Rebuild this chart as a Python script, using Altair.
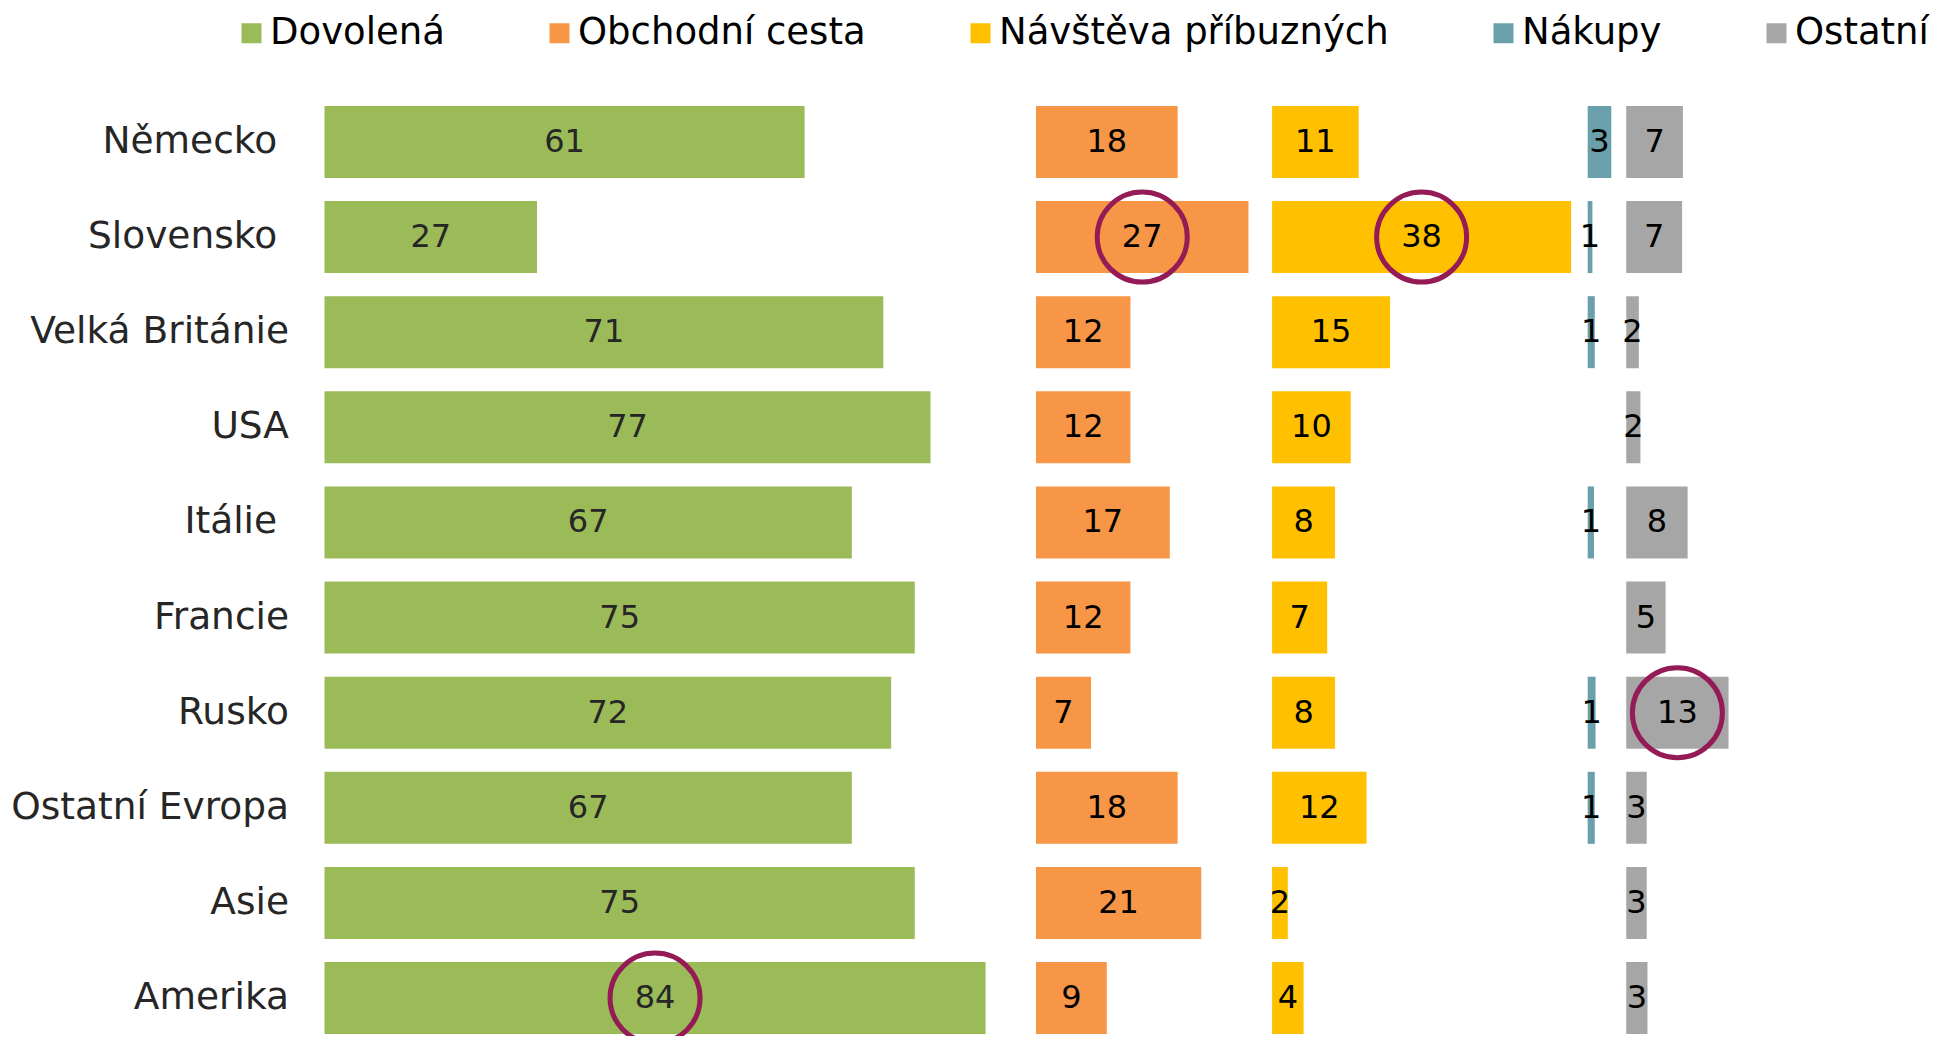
import altair as alt
import pandas as pd

# trailing non-breaking space (kept from trimming by a zero-width space) as in the original labels
countries = ["Německo\u00a0\u200b", "Slovensko\u00a0\u200b", "Velká Británie", "USA", "Itálie\u00a0\u200b",
             "Francie", "Rusko", "Ostatní Evropa", "Asie", "Amerika"]
series = ["Dovolená", "Obchodní cesta", "Návštěva příbuzných", "Nákupy", "Ostatní"]
colors = ["#9BBB59", "#F79646", "#FFC000", "#6AA0AC", "#A6A6A6"]

dovolena = [61, 27, 71, 77, 67, 75, 72, 67, 75, 84]
obchodni = [18, 27, 12, 12, 17, 12, 7, 18, 21, 9]
navsteva = [11, 38, 15, 10, 8, 7, 8, 12, 2, 4]
nakupy = [3, 0.6, 0.9, 0, 0.8, 0, 1.0, 0.9, 0, 0]
ostatni = [7.2, 7.1, 1.6, 1.8, 7.8, 5, 13, 2.6, 2.6, 2.7]

# column start of each series (layout on the shared value axis)
offsets = [0, 90.4, 120.4, 160.5, 165.4]

# highlighted (circled) values
highlights = [(countries[1], "Obchodní cesta"), (countries[1], "Návštěva příbuzných"),
              ("Rusko", "Ostatní"), ("Amerika", "Dovolená")]

rows = []
for s, vals, off in zip(series, [dovolena, obchodni, navsteva, nakupy, ostatni], offsets):
    for c, v in zip(countries, vals):
        rows.append({"country": c, "series": s, "value": v,
                     "start": off, "end": off + v, "mid": off + v / 2})
df = pd.DataFrame(rows)
hl = pd.DataFrame([r for r in rows if (r["country"], r["series"]) in highlights])

FONT = "DejaVu Sans"
xs = alt.Scale(domain=[0, 185], nice=False, zero=False)
ys = alt.Scale(domain=countries, paddingInner=0.243, paddingOuter=0.02)

y_enc = alt.Y("country:N", scale=ys, sort=countries, title=None,
              axis=alt.Axis(domain=False, ticks=False, tickSize=0, labelPadding=36,
                            labelFontSize=37.5, labelFont=FONT, labelColor="#262626",
                            labelLimit=400))

bars = alt.Chart(df).mark_bar().encode(
    x=alt.X("start:Q", scale=xs, axis=None),
    x2="end:Q",
    y=y_enc,
    color=alt.Color("series:N", scale=alt.Scale(domain=series, range=colors),
                    sort=series,
                    legend=alt.Legend(title=None, orient="none", direction="horizontal",
                                      legendX=-91.5, legendY=-89.5,
                                      symbolType="square", symbolSize=400,
                                      symbolStrokeWidth=0, labelFontSize=37,
                                      labelFont=FONT, labelColor="#000000",
                                      labelOffset=0, columnPadding=96,
                                      labelLimit=600)),
)

labels = alt.Chart(df).transform_filter("datum.value > 0").mark_text(
    font=FONT, fontSize=32, baseline="middle", align="center"
).encode(
    x=alt.X("mid:Q", scale=xs, axis=None),
    y=alt.Y("country:N", scale=ys, sort=countries),
    text=alt.Text("value:Q", format=".0f"),
    color=alt.condition("datum.series == 'Dovolená'", alt.value("#262626"), alt.value("#000000")),
)

circles = alt.Chart(hl).mark_point(shape="circle", filled=False, size=8100,
                                   stroke="#951B56", strokeWidth=5, opacity=1).encode(
    x=alt.X("mid:Q", scale=xs, axis=None),
    y=alt.Y("country:N", scale=ys, sort=countries),
)

chart = alt.layer(bars, labels, circles).properties(
    width=1456, height=932,
    autosize=alt.AutoSizeParams(type="none"),
    padding={"left": 316.5, "top": 96, "right": 152, "bottom": 0},
).configure_view(stroke=None)

chart.save("out.html", embed_options={"renderer": "svg", "actions": False})
